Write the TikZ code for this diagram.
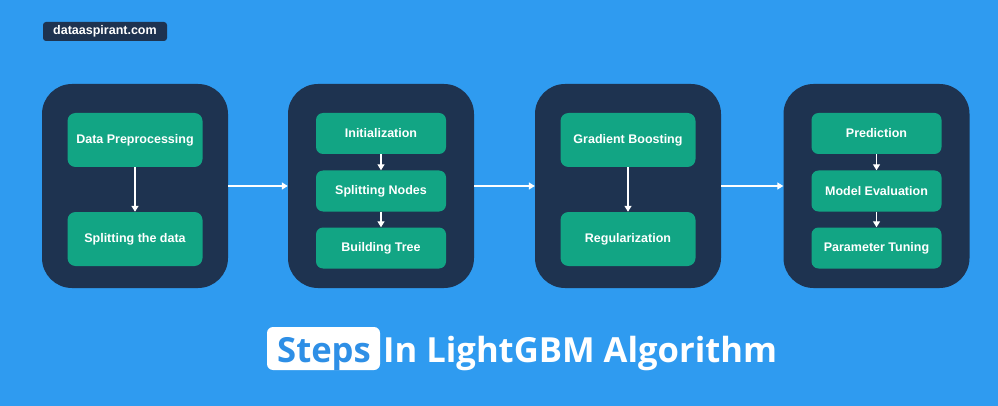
\documentclass[tikz,border=0pt]{standalone}
\usepackage{fontspec}
\setmainfont{Liberation Sans}
\newfontfamily\titlefont{Open Sans}
\usetikzlibrary{arrows.meta}
\definecolor{bgblue}{HTML}{2F9BF0}
\definecolor{darkbox}{HTML}{1E3350}
\definecolor{greenbox}{HTML}{12A584}
\definecolor{stepsblue}{HTML}{2E8FE6}
\tikzset{
  panel/.style={draw=none, fill=darkbox, rounded corners=30pt, minimum width=186pt, minimum height=204pt, inner sep=0pt},
  gbig/.style={draw=none, fill=greenbox, rounded corners=8pt, minimum width=135pt, minimum height=54pt, inner sep=0pt, text=white, font=\fontsize{12.5}{14}\selectfont\bfseries},
  gsmall/.style={draw=none, fill=greenbox, rounded corners=7pt, minimum width=130pt, minimum height=41pt, inner sep=0pt, text=white, font=\fontsize{12.5}{14}\selectfont\bfseries},
  flow/.style={draw=white, line width=1.3pt, -{Triangle[width=7pt,length=6pt]}},
  titletext/.style={inner sep=0pt, font=\titlefont\fontsize{34.6}{40}\selectfont\bfseries},
}
\begin{document}
\begin{tikzpicture}[x=1pt,y=-1pt]
\fill[bgblue] (0,0) rectangle (998,406);
\useasboundingbox (0,0) rectangle (998,406);
% watermark
\node[fill=darkbox, rounded corners=3pt, minimum width=124pt, minimum height=19pt, inner sep=0pt, text=white, font=\fontsize{12.5}{14}\selectfont\bfseries] (wm) at (105,31.5) {dataaspirant.com};
% panels
\node[panel] (p1) at (135,186) {};
\node[panel] (p2) at (381,186) {};
\node[panel] (p3) at (628,186) {};
\node[panel] (p4) at (876.5,186) {};
% column 1
\node[gbig] (a1) at (135,140) {Data Preprocessing};
\node[gbig] (a2) at (135,239) {Splitting the data};
% column 2
\node[gsmall] (b1) at (381,133.5) {Initialization};
\node[gsmall] (b2) at (381,191) {Splitting Nodes};
\node[gsmall] (b3) at (381,248) {Building Tree};
% column 3
\node[gbig] (c1) at (628,140) {Gradient Boosting};
\node[gbig] (c2) at (628,239) {Regularization};
% column 4
\node[gsmall] (d1) at (876.5,133.5) {Prediction};
\node[gsmall] (d2) at (876.5,191) {Model Evaluation};
\node[gsmall] (d3) at (876.5,248) {Parameter Tuning};
% inner arrows
\draw[flow] (a1) -- (a2);
\draw[flow] (b1) -- (b2);
\draw[flow] (b2) -- (b3);
\draw[flow] (c1) -- (c2);
\draw[flow] (d1) -- (d2);
\draw[flow] (d2) -- (d3);
% between panels
\draw[flow] (p1) -- (p2);
\draw[flow] (p2) -- (p3);
\draw[flow] (p3) -- (p4);
% title
\node[fill=white, rounded corners=6pt, minimum width=113pt, minimum height=43pt, inner sep=0pt] (stepsbox) at (323.5,348.5) {};
\node[titletext, anchor=base west, text=stepsblue] (steps) at (277,362) {Steps};
\node[titletext, anchor=base west, text=white] (title) at (383,362) {In LightGBM Algorithm};
\end{tikzpicture}
\end{document}
